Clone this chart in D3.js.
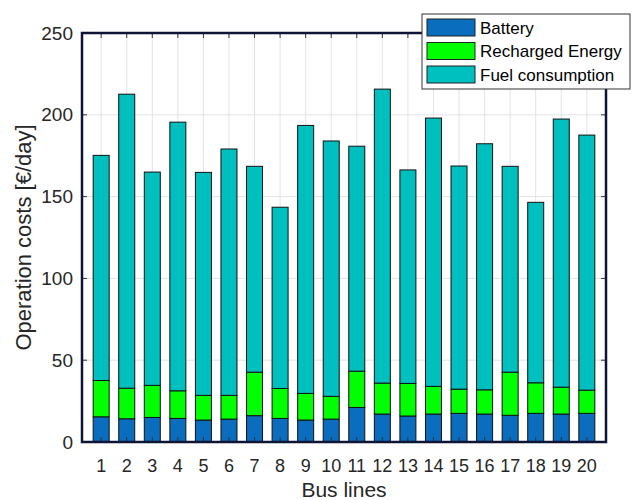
<!DOCTYPE html>
<html><head><meta charset="utf-8">
<script src="https://cdn.jsdelivr.net/npm/d3@7"></script>
<style>body{margin:0;background:#fff}svg{display:block}text{font-family:"Liberation Sans",Arial,sans-serif}</style>
</head><body><svg id="c" width="635" height="500"></svg>
<script>
const categories = d3.range(1, 21);
const battery  = [15.4,14.2,15.0,14.4,13.4,14.0,16.1,14.4,13.4,14.0,21.1,17.1,15.9,17.1,17.5,17.1,16.3,17.5,17.1,17.5];
const recharged= [22.2,18.7,19.6,16.9,15.1,14.5,26.6,18.3,16.3,13.9,22.2,18.9,19.9,16.9,14.8,14.8,26.4,18.7,16.4,14.2];
const totals   = [175.2,212.6,165.0,195.5,164.8,179.1,168.5,143.5,193.5,184.0,180.8,215.7,166.3,198.0,168.7,182.3,168.5,146.5,197.4,187.6];
const fuel = totals.map((t,i)=> +(t - battery[i] - recharged[i]).toFixed(1));
const seriesNames = ["Battery","Recharged Energy","Fuel consumption"];
const colors = ["#0a6dbe","#00ff00","#00bfbf"];
const yTicks = [0,50,100,150,200,250];

const svg = d3.select("#c");
const L=82, R=606, T=33, B=442;
const x = d3.scaleLinear().domain([0.25,20.75]).range([L,R]);
const y = d3.scaleLinear().domain([0,250]).range([B,T]);

const rows = categories.map((c,i)=>({cat:c, Battery:battery[i], "Recharged Energy":recharged[i], "Fuel consumption":fuel[i]}));
const stacked = d3.stack().keys(seriesNames)(rows);

// grid
const g = svg.append("g");
g.selectAll(".gx").data(categories).join("line").attr("x1",d=>x(d)).attr("x2",d=>x(d)).attr("y1",T).attr("y2",B).attr("stroke","#e3e3e3").attr("stroke-width",1);
g.selectAll(".gy").data(yTicks).join("line").attr("x1",L).attr("x2",R).attr("y1",d=>y(d)).attr("y2",d=>y(d)).attr("stroke","#e3e3e3").attr("stroke-width",1);

// bars
const bw = 16;
svg.append("g").selectAll("g").data(stacked).join("g").attr("fill",(d,i)=>colors[i])
 .selectAll("rect").data(d=>d).join("rect")
 .attr("x",d=>x(d.data.cat)-bw/2).attr("width",bw)
 .attr("y",d=>y(d[1])).attr("height",d=>y(d[0])-y(d[1]))
 .attr("stroke","#111").attr("stroke-width",1);

// ticks (inward)
const tk = svg.append("g").attr("stroke","#333").attr("stroke-width",1);
categories.forEach(c=>{ tk.append("line").attr("x1",x(c)).attr("x2",x(c)).attr("y1",B).attr("y2",B-5);
  tk.append("line").attr("x1",x(c)).attr("x2",x(c)).attr("y1",T).attr("y2",T+5);});
yTicks.forEach(t=>{ tk.append("line").attr("x1",L).attr("x2",L+5).attr("y1",y(t)).attr("y2",y(t));
  tk.append("line").attr("x1",R).attr("x2",R-5).attr("y1",y(t)).attr("y2",y(t));});

// box
svg.append("rect").attr("x",L).attr("y",T).attr("width",R-L).attr("height",B-T).attr("fill","none").attr("stroke","#0d1436").attr("stroke-width",2.5);

// tick labels
svg.append("g").selectAll("text").data(categories).join("text").attr("x",d=>x(d)).attr("y",472)
 .attr("text-anchor","middle").attr("font-size",18).attr("fill","#262626").text(d=>d);
svg.append("g").selectAll("text").data(yTicks).join("text").attr("x",73).attr("y",d=>y(d)+6.5)
 .attr("text-anchor","end").attr("font-size",19).attr("fill","#262626").text(d=>d);

// axis titles
svg.append("text").attr("x",(L+R)/2).attr("y",497).attr("text-anchor","middle").attr("font-size",21).attr("fill","#262626").text("Bus lines");
svg.append("text").attr("transform",`translate(31,${(T+B)/2}) rotate(-90)`).attr("text-anchor","middle").attr("font-size",22).attr("fill","#262626").text("Operation costs [€/day]");

// legend
const lg = svg.append("g");
lg.append("rect").attr("x",422).attr("y",14).attr("width",208).attr("height",75).attr("fill","#fff").attr("stroke","#333").attr("stroke-width",1);
seriesNames.forEach((s,i)=>{
  const yy = 19 + i*23.5;
  lg.append("rect").attr("x",427).attr("y",yy).attr("width",48).attr("height",17).attr("fill",colors[i]).attr("stroke","#222").attr("stroke-width",1);
  lg.append("text").attr("x",480).attr("y",yy+14.5).attr("font-size",17).attr("fill","#000").text(s);
});
</script></body></html>
